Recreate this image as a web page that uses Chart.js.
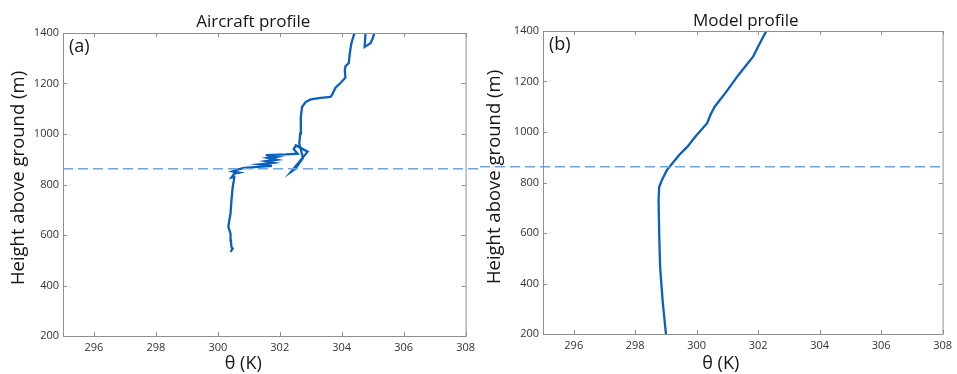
<!DOCTYPE html>
<html>
<head>
<meta charset="utf-8">
<script src="https://cdn.jsdelivr.net/npm/chart.js@4.4.1/dist/chart.umd.min.js"></script>
<style>
  html, body { margin: 0; padding: 0; background: #fff; }
  #wrap { position: relative; width: 957px; height: 374px; overflow: hidden; }
  canvas { position: absolute; top: 0; }
</style>
</head>
<body>
<div id="wrap">
  <canvas id="chartA" width="480" height="374" style="left:0"></canvas>
  <canvas id="chartB" width="477" height="374" style="left:480px"></canvas>
</div>
<script>
// ---------------------------------------------------------------------
// Data
// ---------------------------------------------------------------------
const xTickValues = [296, 298, 300, 302, 304, 306, 308];
const yTickValues = [200, 400, 600, 800, 1000, 1200, 1400];
const inversionHeight = 862;   // dashed line, m

// Aircraft profile (a): potential temperature (K) vs height (m)
const aircraftTheta = [300.41, 300.48, 300.44, 300.42, 300.41, 300.34, 300.37, 300.41, 300.44, 300.48,
  300.52, 300.53, 300.44, 300.53, 300.69, 300.47, 300.66, 300.85, 301.3, 301.75,
  301.35, 301.8, 301.55, 301.9, 301.62, 301.9, 301.55, 302.2, 302.58, 302.45,
  302.52, 302.9, 302.36, 302.5, 302.75, 302.63, 302.66, 302.68, 302.72, 302.84,
  303.0, 303.32, 303.64, 303.69, 303.80, 303.96, 304.12, 304.10, 304.12, 304.23,
  304.26, 304.31, 304.39, 304.5, 304.78, 304.77, 304.74, 304.82, 304.93, 305.0,
  305.05, 305.1];
const aircraftHeight = [533, 546, 552, 579, 605, 632, 658, 685, 737, 790,
  817, 830, 827, 843, 847, 852, 860, 866, 870, 874,
  880, 886, 892, 898, 905, 910, 916, 919, 922, 940,
  955, 930, 850, 862, 905, 962, 1001, 1067, 1107, 1127,
  1137, 1143, 1147, 1156, 1183, 1202, 1223, 1252, 1268, 1281,
  1318, 1358, 1391, 1420, 1420, 1400, 1345, 1351, 1360, 1378,
  1400, 1420];

// Model profile (b)
const modelTheta = [299.0, 298.89, 298.81, 298.78, 298.76, 298.78, 298.87, 299.03, 299.21, 299.43,
  299.70, 299.96, 300.34, 300.45, 300.59, 300.93, 301.36, 301.84, 302.0, 302.27];
const modelHeight = [200, 334, 466, 598, 730, 783, 810, 849, 876, 909,
  942, 982, 1035, 1068, 1101, 1154, 1226, 1299, 1339, 1401];

// ---------------------------------------------------------------------
// Styling
// ---------------------------------------------------------------------
const FONT = "'Open Sans', 'DejaVu Sans', sans-serif";
const LINE_BLUE = '#0b5fbf';
const DASH_BLUE = '#6aa6df';
const BOX_GREY = '#8f8f8f';

function toPoints(xs, ys) {
  return xs.map((x, i) => ({ x, y: ys[i] }));
}

/**
 * MATLAB-like frame: full box, inward ticks on all sides, titles,
 * panel letter and the dashed inversion line that runs across panels.
 */
const framePlugin = {
  id: 'frame',
  afterDatasetsDraw(chart, args, opts) {
    const { ctx, chartArea: a, scales: { x, y } } = chart;
    const cx = (a.left + a.right) / 2;
    ctx.save();

    // dashed inversion height line (not clipped, crosses the gap)
    const yy = y.getPixelForValue(inversionHeight);
    ctx.strokeStyle = DASH_BLUE;
    ctx.lineWidth = 1.5;
    ctx.setLineDash([10, 5]);
    ctx.beginPath();
    ctx.moveTo(opts.dashFrom === 'canvas' ? 0 : a.left, yy);
    ctx.lineTo(opts.dashTo === 'canvas' ? chart.width : a.right + 2, yy);
    ctx.stroke();
    ctx.setLineDash([]);

    // box
    ctx.strokeStyle = BOX_GREY;
    ctx.lineWidth = 1;
    ctx.strokeRect(a.left + 0.5, a.top + 0.5, a.right - a.left, a.bottom - a.top);

    // inward ticks
    const tl = 4;
    ctx.beginPath();
    x.ticks.forEach(t => {
      const px = Math.round(x.getPixelForValue(t.value)) + 0.5;
      ctx.moveTo(px, a.bottom); ctx.lineTo(px, a.bottom - tl);
      ctx.moveTo(px, a.top);    ctx.lineTo(px, a.top + tl);
    });
    y.ticks.forEach(t => {
      const py = Math.round(y.getPixelForValue(t.value)) + 0.5;
      ctx.moveTo(a.left, py);  ctx.lineTo(a.left + tl, py);
      ctx.moveTo(a.right, py); ctx.lineTo(a.right - tl, py);
    });
    ctx.stroke();

    // title, axis titles and panel letter
    ctx.fillStyle = '#151515';
    ctx.textBaseline = 'middle';
    ctx.textAlign = 'center';
    ctx.font = `17px ${FONT}`;
    ctx.fillText(opts.title, cx + opts.titleShift, opts.titleY);

    ctx.font = `18px ${FONT}`;
    ctx.fillText('θ (K)', cx + opts.xTitleShift, 364);

    ctx.save();
    ctx.translate(opts.yTitleX, opts.yTitleY);
    ctx.rotate(-Math.PI / 2);
    ctx.font = `18.5px ${FONT}`;
    ctx.fillText('Height above ground (m)', 0, 0);
    ctx.restore();

    ctx.textAlign = 'left';
    ctx.font = `18px ${FONT}`;
    ctx.fillText(opts.letter, a.left + 6, a.top + 14);
    ctx.restore();
  },
};

function makeOptions(cfg) {
  return {
    responsive: false,
    animation: false,
    layout: { padding: { left: 0, right: cfg.padRight, top: cfg.padTop, bottom: 0 } },
    plugins: {
      legend: { display: false },
      tooltip: { enabled: false },
      frame: cfg.frame,
    },
    scales: {
      x: {
        type: 'linear',
        min: 295, max: 308,
        afterBuildTicks: s => { s.ticks = xTickValues.map(v => ({ value: v })); },
        afterFit: s => { s.height = cfg.xHeight; },
        grid: { display: false, drawTicks: false },
        border: { display: false },
        ticks: { color: '#333', font: { family: FONT, size: 11 }, padding: 5, maxRotation: 0,
                 callback: v => String(v) },
      },
      y: {
        type: 'linear',
        min: 200, max: 1400,
        afterBuildTicks: s => { s.ticks = yTickValues.map(v => ({ value: v })); },
        afterFit: s => { s.width = cfg.yWidth; },
        grid: { display: false, drawTicks: false },
        border: { display: false },
        ticks: { color: '#333', font: { family: FONT, size: 11 }, padding: 4,
                 callback: v => String(v) },
      },
    },
  };
}

function makeDataset(xs, ys) {
  return {
    data: toPoints(xs, ys),
    showLine: true,
    borderColor: LINE_BLUE,
    borderWidth: 2.3,
    pointRadius: 0,
    tension: 0,
    clip: 0,
  };
}

new Chart(document.getElementById('chartA'), {
  type: 'scatter',
  data: { datasets: [makeDataset(aircraftTheta, aircraftHeight)] },
  options: makeOptions({
    padRight: 11, padTop: 33, xHeight: 38, yWidth: 63,
    frame: { title: 'Aircraft profile', titleShift: -11, titleY: 22, xTitleShift: -21,
             yTitleX: 19, yTitleY: 178, letter: '(a)', dashFrom: 'area', dashTo: 'canvas' },
  }),
  plugins: [framePlugin],
});

new Chart(document.getElementById('chartB'), {
  type: 'scatter',
  data: { datasets: [makeDataset(modelTheta, modelHeight)] },
  options: makeOptions({
    padRight: 11, padTop: 31, xHeight: 40, yWidth: 63,
    frame: { title: 'Model profile', titleShift: 3, titleY: 21, xTitleShift: -22,
             yTitleX: 15, yTitleY: 177, letter: '(b)', dashFrom: 'canvas', dashTo: 'area' },
  }),
  plugins: [framePlugin],
});
</script>
</body>
</html>
